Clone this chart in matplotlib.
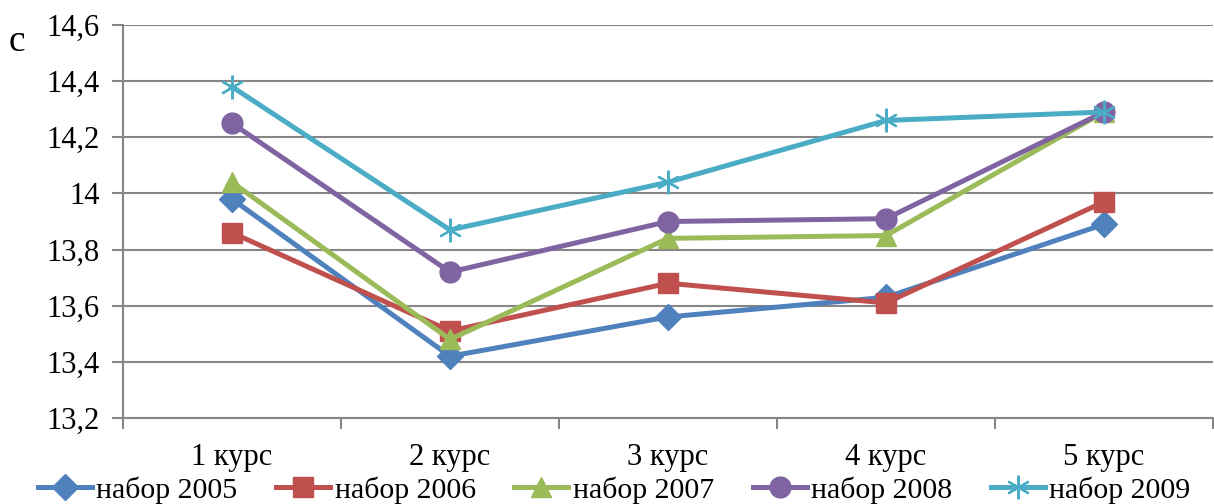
import matplotlib
matplotlib.use("Agg")
import matplotlib.pyplot as plt

plt.rcParams['font.family'] = ['Liberation Serif', 'DejaVu Serif']

courses = ['1 курс', '2 курс', '3 курс', '4 курс', '5 курс']
nabor_2005 = [13.98, 13.42, 13.56, 13.63, 13.89]
nabor_2006 = [13.86, 13.51, 13.68, 13.61, 13.97]
nabor_2007 = [14.04, 13.48, 13.84, 13.85, 14.29]
nabor_2008 = [14.25, 13.72, 13.90, 13.91, 14.29]
nabor_2009 = [14.38, 13.87, 14.04, 14.26, 14.29]

y_ticks = [13.2, 13.4, 13.6, 13.8, 14.0, 14.2, 14.4, 14.6]
y_labels = ['13,2', '13,4', '13,6', '13,8', '14', '14,2', '14,4', '14,6']

series = [
    ('набор 2005', nabor_2005, '#4F81BD', 'D', 13),
    ('набор 2006', nabor_2006, '#C0504D', 's', 14),
    ('набор 2007', nabor_2007, '#9BBB59', '^', 15),
    ('набор 2008', nabor_2008, '#8064A2', 'o', 15),
    ('набор 2009', nabor_2009, '#4BACC6', (6, 2, 0), 17),
]

fs = 22
fig = plt.figure(figsize=(12.14, 5.04), dpi=100)
ax = fig.add_axes([123 / 1214, 1 - 418 / 504, 1090 / 1214, 393 / 504])

x = list(range(len(courses)))
for name, vals, col, mk, ms in series:
    if mk == (6, 2, 0):
        ax.plot(x, vals, color=col, lw=3.6, marker=mk, ms=ms, mew=1.6,
                mec=col, label=name, zorder=3)
    else:
        ax.plot(x, vals, color=col, lw=3.6, marker=mk, ms=ms, mec=col,
                label=name, zorder=3)

ax.set_xlim(-0.5, 4.5)
ax.set_ylim(13.2, 14.6)
ax.set_yticks(y_ticks)
ax.set_yticklabels(y_labels, fontsize=fs)
ax.set_xticks(x)
ax.set_xticklabels(courses, fontsize=fs)
ax.set_xticks([i - 0.5 for i in range(len(courses) + 1)], minor=True)
ax.tick_params(axis='x', which='major', length=0, pad=18)
ax.tick_params(axis='x', which='minor', length=8, width=1.5, color='#868686')
ax.tick_params(axis='y', length=8, width=1.5, color='#868686', pad=9)

ax.grid(axis='y', color='#868686', lw=1.5)
ax.set_axisbelow(True)
for s in ['top', 'right']:
    ax.spines[s].set_visible(False)
for s in ['left', 'bottom']:
    ax.spines[s].set_color('#868686')
    ax.spines[s].set_linewidth(1.5)

fig.text(17 / 1214, 1 - 42 / 504, 'с', fontsize=27, ha='center', va='center')

fig.legend(loc='center', bbox_to_anchor=(0.506, 1 - 490 / 504), ncol=5,
           frameon=False, fontsize=21.5, handlelength=1.8, handletextpad=0.15,
           columnspacing=1.3, borderpad=0, borderaxespad=0)

fig.savefig('out.png', dpi=100)
